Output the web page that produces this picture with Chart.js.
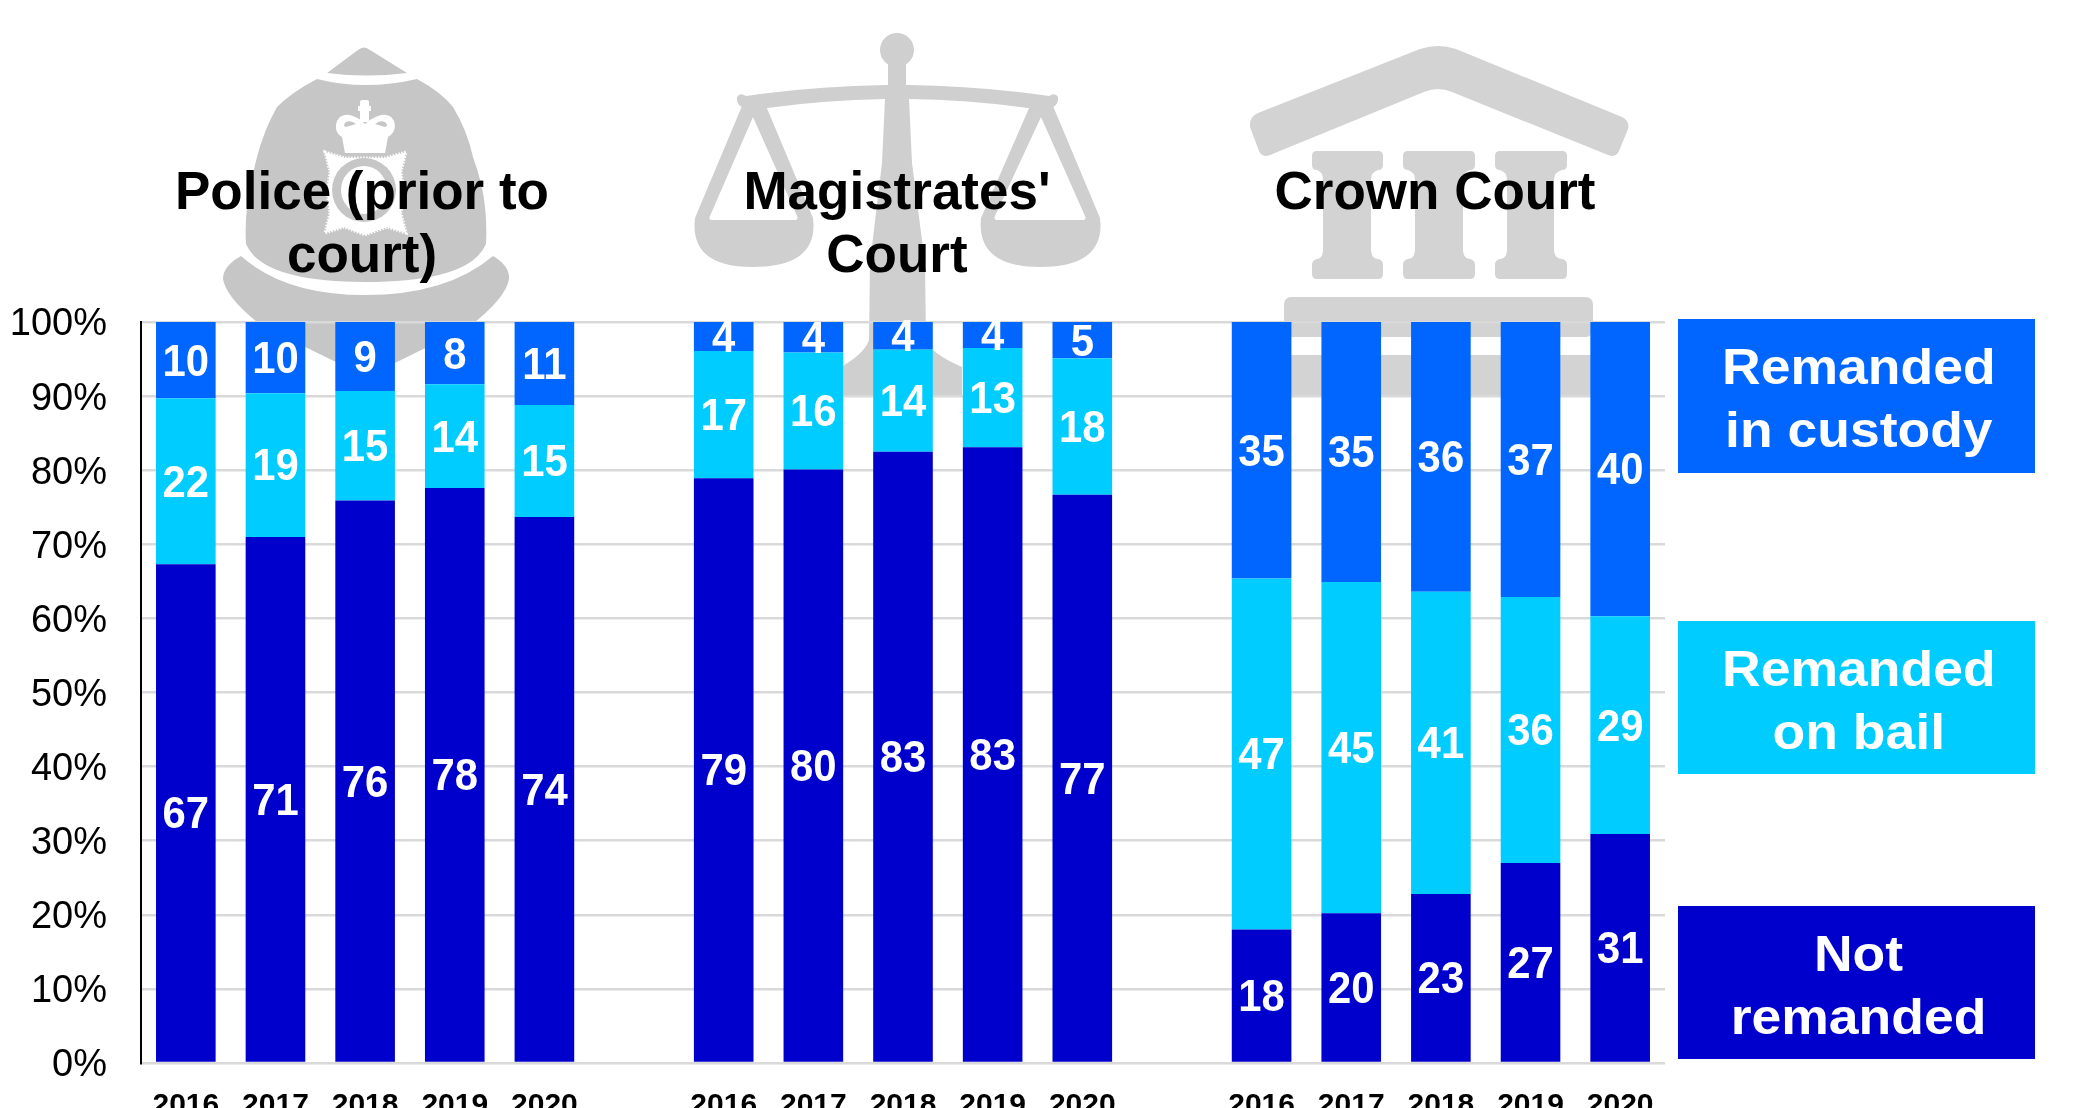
<!DOCTYPE html>
<html>
<head>
<meta charset="utf-8">
<title>Remand status by stage</title>
<script src="https://cdn.jsdelivr.net/npm/chart.js@4/dist/chart.umd.min.js"></script>
<style>
html,body{margin:0;padding:0;background:#fff;width:2087px;height:1108px;overflow:hidden;font-family:"Liberation Sans",Arial,sans-serif}
#art,#c{position:absolute;left:0;top:0}
.title{position:absolute;font-weight:700;font-size:53px;line-height:63px;color:#000;text-align:center;transform:translateX(-50%);white-space:nowrap}
.key{position:absolute;left:1678px;width:357px;color:#fff;font-weight:700;font-size:50px;line-height:63px;text-align:center;display:flex;align-items:center;justify-content:center}
.key span{display:block;transform:translate(2px,3px) scaleX(1.07)}
</style>
</head>
<body>
<svg id="art" width="2087" height="1108" viewBox="0 0 2087 1108" xmlns="http://www.w3.org/2000/svg">
  <!-- helmet -->
  <g fill="#c6c6c6">
    <path d="M327,73 L358,50 Q364,45 370,50 L407,73 Q366,78 327,73 Z"/>
    <path d="M317,79 Q365,91 417,79 Q441,92 453,107 Q467,130 473,157 Q483,185 485,207 Q487,225 486,244 Q470,282 365,282 Q262,282 246,244 Q245,225 247,207 Q250,185 257,157 Q264,130 277,107 Q292,92 317,79 Z"/>
    <path d="M241,256 Q285,295 365,295 Q447,295 493,256 Q510,266 509,279 Q506,298 470,326 L397,362 Q366,376 336,362 L262,326 Q226,298 223,279 Q223,266 241,256 Z"/>
  </g>
  <g fill="#fff">
    <rect x="360" y="100" width="9" height="22" rx="2"/>
    <rect x="358" y="106" width="13" height="5"/>
    <path fill-rule="evenodd" d="M336,125 Q338,113 350,115 Q360,118 365,124 Q371,118 381,115 Q393,113 395,125 Q395,133 388,137 L385,153 L345,153 L342,137 Q335,133 336,125 Z M346,122 Q342,126 346,127 L356,124 Q351,120 346,122 Z M385,122 Q389,126 385,127 L375,124 Q380,120 385,122 Z"/>
    <path d="M325,152 L345,158 L385,158 L406,152 L401,172 L404,192 L401,213 L406,233 L387,227 L365,235 L344,227 L325,233 L330,213 L327,192 L330,172 Z" stroke="#fff" stroke-width="3" stroke-dasharray="1.5 1.5"/>
  </g>
  <ellipse cx="364" cy="190" rx="32" ry="32" fill="#c6c6c6"/>
  <ellipse cx="364" cy="190" rx="23" ry="24" fill="#fff"/>
  <!-- scales -->
  <g fill="#cfcfcf">
    <circle cx="897" cy="50" r="17"/>
    <rect x="888" y="60" width="18" height="26"/>
    <path d="M737,97 Q740,92 746,96 Q815,86 885,85 L909,85 Q980,86 1049,96 Q1055,92 1058,97 Q1059,106 1050,108 L1028,108 Q970,100 909,99 L912,163 L925,263 L926,340 Q930,353 962,367 L962,397 L841,397 L841,367 Q865,353 869,340 L870,263 L882,163 L885,99 Q825,100 767,108 L745,108 Q736,106 737,97 Z"/>
    <path fill-rule="evenodd" d="M742,106 L766,106 L813,218 Q819,267 753,267 Q689,267 695,218 Z M753,117 L710,216 Q708,220 713,220 L794,220 Q799,220 797,216 Z"/>
    <path fill-rule="evenodd" d="M1030,106 L1053,106 L1100,218 Q1106,267 1040,267 Q976,267 981,218 Z M1041,117 L995,216 Q993,220 998,220 L1082,220 Q1087,220 1085,216 Z"/>
  </g>
  <!-- court building -->
  <g fill="#d3d3d3">
    <path d="M1258,113 L1420,49 Q1438,43 1456,49 L1622,117 Q1630,121 1628,129 L1619,151 Q1616,158 1608,155 L1452,92 Q1438,86 1424,92 L1270,155 Q1262,158 1259,151 L1250,127 Q1249,117 1258,113 Z"/>
    <path d="M1312,156 Q1312,151 1317,151 L1378,151 Q1383,151 1383,156 L1383,165 Q1383,170 1378,170 Q1371,172 1371,180 L1371,250 Q1371,258 1378,259 Q1383,260 1383,265 L1383,274 Q1383,279 1378,279 L1317,279 Q1312,279 1312,274 L1312,265 Q1312,260 1317,259 Q1323,258 1323,250 L1323,180 Q1323,172 1317,170 Q1312,170 1312,165 Z"/>
    <path d="M1403,156 Q1403,151 1408,151 L1470,151 Q1475,151 1475,156 L1475,165 Q1475,170 1470,170 Q1463,172 1463,180 L1463,250 Q1463,258 1470,259 Q1475,260 1475,265 L1475,274 Q1475,279 1470,279 L1408,279 Q1403,279 1403,274 L1403,265 Q1403,260 1408,259 Q1415,258 1415,250 L1415,180 Q1415,172 1408,170 Q1403,170 1403,165 Z"/>
    <path d="M1495,156 Q1495,151 1500,151 L1562,151 Q1567,151 1567,156 L1567,165 Q1567,170 1562,170 Q1554,172 1554,180 L1554,250 Q1554,258 1562,259 Q1567,260 1567,265 L1567,274 Q1567,279 1562,279 L1500,279 Q1495,279 1495,274 L1495,265 Q1495,260 1500,259 Q1507,258 1507,250 L1507,180 Q1507,172 1500,170 Q1495,170 1495,165 Z"/>
    <rect x="1284" y="297" width="309" height="40" rx="7"/>
    <rect x="1262" y="355" width="358" height="41"/>
  </g>
</svg>
<canvas id="c" width="2087" height="1108"></canvas>
<div class="title" style="left:362px;top:159px">Police (prior to<br>court)</div>
<div class="title" style="left:897px;top:159px">Magistrates'<br>Court</div>
<div class="title" style="left:1435px;top:159px">Crown Court</div>
<div class="key" style="top:319px;height:154px;background:#0066ff"><span id="k1"></span></div>
<div class="key" style="top:621px;height:153px;background:#00ccff"><span id="k2"></span></div>
<div class="key" style="top:906px;height:153px;background:#0000cc"><span id="k3"></span></div>
<script>
const categories = ['2016','2017','2018','2019','2020','',
                    '2016','2017','2018','2019','2020','',
                    '2016','2017','2018','2019','2020'];
const notRemanded = [67.3,71.0,75.9,77.6,73.7,null, 78.9,80.1,82.5,83.1,76.7,null, 18.0,20.2,22.8,27.0,30.9];
const onBail      = [22.4,19.4,14.8,14.0,15.1,null, 17.2,15.8,13.8,13.4,18.4,null, 47.4,44.7,40.8,35.9,29.4];
const inCustody   = [10.3, 9.6, 9.3, 8.4,11.2,null,  3.9, 4.1, 3.7, 3.5, 4.9,null, 34.6,35.1,36.4,37.1,39.7];
const seriesNames = ['Not remanded','Remanded on bail','Remanded in custody'];
const seriesColors = ['#0000cc','#00ccff','#0066ff'];
const legendLines = [['Remanded','in custody'],['Remanded','on bail'],['Not','remanded']];

['k1','k2','k3'].forEach((id,i)=>{
  document.getElementById(id).innerHTML = legendLines[i].join('<br>');
});

const FONT = '"Liberation Sans", Arial, sans-serif';

const segmentLabels = {
  id:'segmentLabels',
  afterDatasetsDraw(chart){
    const ctx = chart.ctx;
    chart.data.datasets.forEach((ds,di)=>{
      chart.getDatasetMeta(di).data.forEach((bar,i)=>{
        const v = ds.data[i];
        if(v === null) return;
        const p = bar.getProps(['x','y','base'],true);
        ctx.save();
        ctx.fillStyle = '#fff';
        ctx.textAlign = 'center';
        ctx.textBaseline = 'middle';
        ctx.font = '700 45px ' + FONT;
        ctx.translate(p.x, (p.y + p.base)/2 + 3);
        ctx.scale(0.93,1);
        ctx.fillText(String(Math.round(v)), 0, 0);
        ctx.restore();
      });
    });
  }
};

new Chart(document.getElementById('c'),{
  type:'bar',
  data:{
    labels:categories,
    datasets:[
      {label:seriesNames[0],data:notRemanded,backgroundColor:seriesColors[0]},
      {label:seriesNames[1],data:onBail,backgroundColor:seriesColors[1]},
      {label:seriesNames[2],data:inCustody,backgroundColor:seriesColors[2]}
    ]
  },
  options:{
    responsive:false,
    animation:false,
    layout:{padding:{left:0,right:422,top:322,bottom:0}},
    plugins:{legend:{display:false},title:{display:false},tooltip:{enabled:false}},
    datasets:{bar:{barPercentage:0.665,categoryPercentage:1}},
    scales:{
      x:{
        stacked:true,
        grid:{display:false},
        border:{display:false},
        afterFit(s){s.height=45;},
        ticks:{autoSkip:false,maxRotation:0,minRotation:0,padding:17,color:'#000',font:{family:FONT,size:30,weight:'700'}}
      },
      y:{
        stacked:true,
        min:0,max:100,
        afterFit(s){s.width=141;},
        grid:{color:'#d9d9d9',lineWidth:2.5,drawTicks:false,tickLength:0},
        border:{display:true,color:'#000',width:2},
        ticks:{stepSize:10,padding:34,color:'#000',font:{family:FONT,size:38,lineHeight:6/38},callback:v=>['',v+'%']}
      }
    }
  },
  plugins:[segmentLabels]
});
</script>
</body>
</html>
